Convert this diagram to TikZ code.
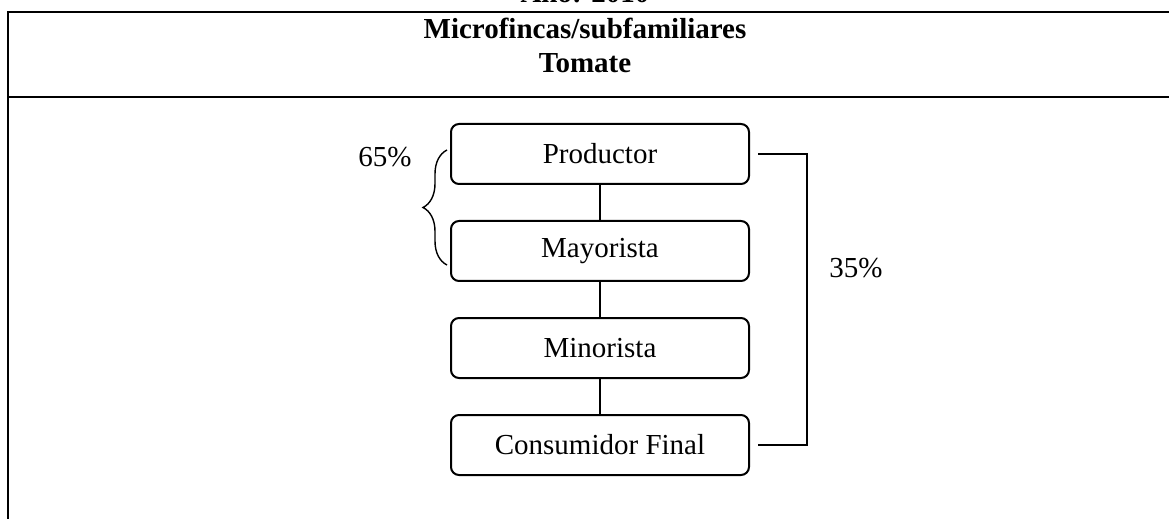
\documentclass[tikz,border=0pt]{standalone}
\usepackage{fontspec}
\setmainfont{Liberation Serif}
\usetikzlibrary{calc, positioning, decorations.pathreplacing}

\begin{document}
\begin{tikzpicture}[x=0.5pt, y=-0.5pt,
    node distance=17.5pt,
    texto/.style={font=\fontsize{14.5}{17}\selectfont},
    titulo/.style={font=\bfseries\fontsize{14.5}{17}\selectfont, anchor=base},
    caja/.style={texto, draw, line width=1pt, rounded corners=4pt,
        minimum width=149pt, minimum height=30pt, inner sep=0pt},
    linea/.style={line width=1pt}]
    \useasboundingbox (0,0) rectangle (1169,519);
    % tabla
    \draw[linea] (1169,12) -- (8,12) -- (8,519);
    \draw[linea] (8,97) -- (1169,97);
    \node[titulo] (anio) at (585,3) {Año: 2010};
    \node[titulo] (tit) at (585,39) {Microfincas/subfamiliares};
    \node[titulo] (prod) at (585,73) {Tomate};
    % cadena
    \node[caja] (p) at (600,154) {Productor};
    \node[caja, below=of p] (ma) {Mayorista};
    \node[caja, below=of ma] (mi) {Minorista};
    \node[caja, below=of mi] (c) {Consumidor Final};
    \draw[linea] (p) -- (ma);
    \draw[linea] (ma) -- (mi);
    \draw[linea] (mi) -- (c);
    % porcentajes
    \draw[linea] ([xshift=4pt]p.east) -- ++(49,0) |- ([xshift=4pt]c.east);
    \node[texto] (d35) at (856,268) {35\%};
    \draw[line width=0.7pt, decorate, decoration={brace, amplitude=12pt}]
        (447,265) -- (447,150);
    \node[texto] (d65) at (385,157) {65\%};
\end{tikzpicture}
\end{document}
